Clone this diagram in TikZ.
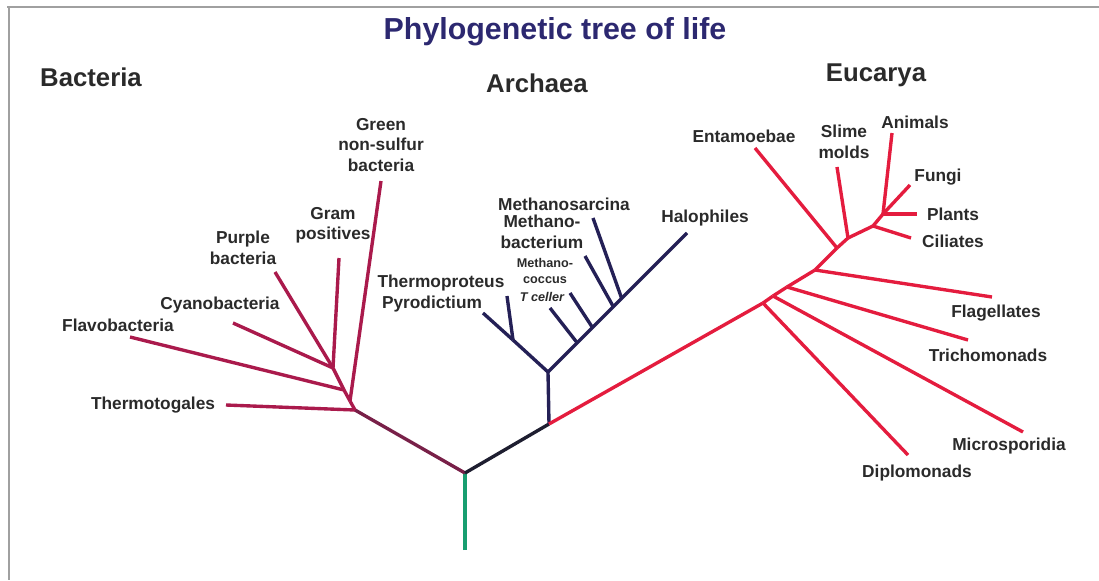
\documentclass[tikz,border=0pt]{standalone}
\usepackage{fontspec}
\setmainfont{Liberation Sans}
\usepackage{xcolor}
\usetikzlibrary{positioning,calc}
\definecolor{bacred}{RGB}{170,26,76}
\definecolor{bacdark}{RGB}{120,32,72}
\definecolor{arcblue}{RGB}{36,32,86}
\definecolor{arcdark}{RGB}{30,30,48}
\definecolor{eukred}{RGB}{228,28,62}
\definecolor{rootgreen}{RGB}{24,158,112}
\definecolor{titleblue}{RGB}{44,40,112}
\definecolor{txtgray}{RGB}{42,42,42}
\definecolor{framegray}{RGB}{160,160,160}
\tikzset{
lbl/.style={
align=center,
inner sep=0pt,
text=txtgray,
font=\fontsize{12.3}{14.5}\selectfont\bfseries
},
smalllbl/.style={
align=center,
inner sep=0pt,
text=txtgray,
font=\fontsize{9}{11.3}\selectfont\bfseries
},
domainlbl/.style={
inner sep=0pt,
text=txtgray,
font=\fontsize{18.3}{22}\selectfont\bfseries
},
bac/.style={draw=bacred,line width=2.4pt,line join=round},
arc/.style={draw=arcblue,line width=2.4pt,line join=round},
euk/.style={draw=eukred,line width=2.4pt,line join=round}
}

\begin{document}
\begin{tikzpicture}[x=0.025cm,y=-0.025cm]
\useasboundingbox (0,0) rectangle (1099,580);
\draw[framegray,line width=1.4pt] (7,7) -- (1099,7);
\draw[framegray,line width=1.4pt] (9,7) -- (9,580);

% titles
\node[inner sep=0pt,text=titleblue,font=\fontsize{21.6}{26}\selectfont\bfseries](title) at (555,32){Phylogenetic tree of life};
\node[domainlbl](bacteria) at (91,77){Bacteria};
\node[domainlbl](archaea) at (537,83){Archaea};
\node[domainlbl](eucarya) at (876,75){Eucarya};

% root and main forks
\coordinate (r) at (465,473);
\coordinate (r0) at (465,550);
\coordinate (b1) at (355,410);
\coordinate (a1) at (549,424);

% bacteria
\coordinate (b2) at (350,401);
\coordinate (b3) at (344,390);
\coordinate (b4) at (333,368);
\coordinate (tg) at (226,405);
\coordinate (gn) at (381,181);
\coordinate (fl) at (130,337);
\coordinate (cy) at (233,323);
\coordinate (pu) at (275,272);
\coordinate (gp) at (339,258);

% archaea
\coordinate (a2) at (548,372);
\coordinate (a3) at (513,340);
\coordinate (tp) at (507,296);
\coordinate (py) at (483,313);
\coordinate (ha) at (687,233);
\coordinate (tcj) at ($(a2)!0.21!(ha)$);
\coordinate (mcj) at ($(a2)!0.32!(ha)$);
\coordinate (mbj) at ($(a2)!0.47!(ha)$);
\coordinate (msj) at ($(a2)!0.53!(ha)$);
\coordinate (tc) at (550,308);
\coordinate (mc) at (570,293);
\coordinate (mb) at (585,256);
\coordinate (ms) at (593,218);

% eucarya
\coordinate (e1) at (763,303);
\coordinate (e2) at (773,296);
\coordinate (e3) at (787,287);
\coordinate (e4) at (815,270);
\coordinate (e5) at (837,248);
\coordinate (e6) at (848,238);
\coordinate (e7) at (873,226);
\coordinate (e8) at (883,214);
\coordinate (dp) at (908,455);
\coordinate (mi) at (1023,432);
\coordinate (tr) at (968,340);
\coordinate (fg) at (992,297);
\coordinate (en) at (755,148);
\coordinate (sm) at (837,167);
\coordinate (ci) at (911,238);
\coordinate (an) at (892,133);
\coordinate (pl) at (917,214);
\coordinate (fu) at (910,185);

\draw[rootgreen,line width=2.4pt](r0)--(r);
\draw[bacdark,line width=2.4pt](r)--(b1);
\draw[arcdark,line width=2.4pt](r)--(a1);

\foreach \x/\y in {b1/b2,b2/b3,b3/b4,b1/tg,b2/gn,b3/fl,b4/cy,b4/pu,b4/gp}
\draw[bac](\x)--(\y);

\foreach \x/\y in {a1/a2,a2/a3,a3/tp,a3/py,a2/ha,tcj/tc,mcj/mc,mbj/mb,msj/ms}
\draw[arc](\x)--(\y);

\foreach \x/\y in {a1/e1,e1/e2,e2/e3,e3/e4,e4/e5,e5/e6,e6/e7,e7/e8,e1/dp,e2/mi,e3/tr,e4/fg,e5/en,e6/sm,e7/ci,e8/an,e8/pl,e8/fu}
\draw[euk](\x)--(\y);

% leaf labels
\node[lbl](lgn) at (381,145){Green\\non-sulfur\\bacteria};
\node[lbl](lgp) at (333,225){Gram\\positives};
\node[lbl](lpu) at (243,248){Purple\\bacteria};
\node[lbl](lcy) at (220,305){Cyanobacteria};
\node[lbl](lfl) at (118,325){Flavobacteria};
\node[lbl](ltg) at (153,405){Thermotogales};

\node[lbl](lms) at (564,204){Methanosarcina};
\node[lbl](lmb) at (542,232){Methano-\\bacterium};
\node[smalllbl](lmc) at (545,271){Methano-\\coccus};
\node[smalllbl,font=\fontsize{9}{11}\selectfont\bfseries\itshape](ltc) at (542,297){T celler};
\node[lbl](ltp) at (441,283){Thermoproteus};
\node[lbl](lpy) at (432,304){Pyrodictium};
\node[lbl](lha) at (705,218){Halophiles};

\node[lbl](len) at (744,136){Entamoebae};
\node[lbl](lsm) at (844,142){Slime\\molds};
\node[lbl](lan) at (915,122){Animals};
\node[lbl](lfu) at (938,177){Fungi};
\node[lbl](lpl) at (953,214){Plants};
\node[lbl](lci) at (953,241){Ciliates};
\node[lbl](lfg) at (996,313){Flagellates};
\node[lbl](ltr) at (988,355){Trichomonads};
\node[lbl](lmi) at (1009,446){Microsporidia};
\node[lbl](ldp) at (917,473){Diplomonads};
\end{tikzpicture}
\end{document}
